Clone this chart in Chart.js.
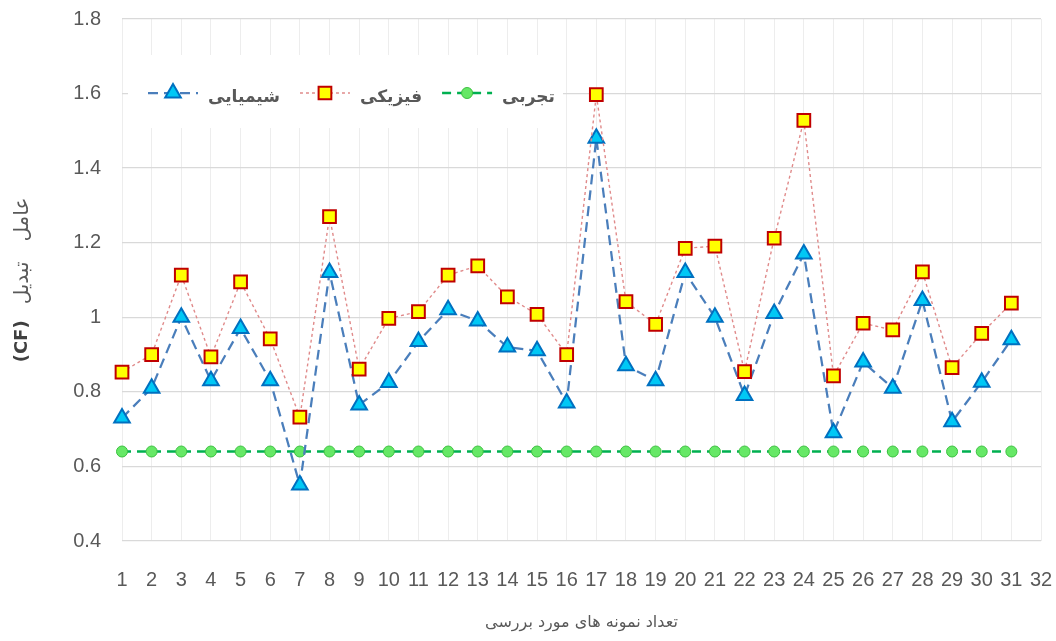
<!DOCTYPE html>
<html lang="fa">
<head>
    <meta charset="UTF-8">
    <title>عامل تبدیل (CF)</title>
    <script src="https://cdn.jsdelivr.net/npm/chart.js"></script>
    <style>
        html, body { margin: 0; padding: 0; background: #fff; }
        #wrap { position: relative; width: 1056px; height: 641px; }
    </style>
</head>
<body>
<div id="wrap"><canvas id="cfChart"></canvas></div>
<script>
    // Samples on the x axis (32 slots, 31 measured)
    const sampleLabels = ['1', '2', '3', '4', '5', '6', '7', '8', '9', '10', '11', '12', '13', '14', '15', '16',
        '17', '18', '19', '20', '21', '22', '23', '24', '25', '26', '27', '28', '29', '30', '31', '32'];

    // شیمیایی
    const chemicalValues = [0.73, 0.81, 1.00, 0.83, 0.97, 0.83, 0.55, 1.12, 0.765, 0.825, 0.935, 1.02, 0.99, 0.92, 0.91, 0.77,
        1.48, 0.87, 0.83, 1.12, 1.00, 0.79, 1.01, 1.17, 0.69, 0.88, 0.81, 1.045, 0.72, 0.826, 0.94];

    // فیزیکی
    const physicalValues = [0.853, 0.90, 1.113, 0.894, 1.095, 0.942, 0.732, 1.27, 0.861, 0.997, 1.015, 1.113, 1.138, 1.055, 1.008, 0.90,
        1.597, 1.042, 0.981, 1.185, 1.191, 0.854, 1.212, 1.528, 0.843, 0.984, 0.966, 1.122, 0.865, 0.957, 1.038];

    // تجربی
    const experimentalValues = [0.64, 0.64, 0.64, 0.64, 0.64, 0.64, 0.64, 0.64, 0.64, 0.64, 0.64, 0.64, 0.64, 0.64, 0.64, 0.64,
        0.64, 0.64, 0.64, 0.64, 0.64, 0.64, 0.64, 0.64, 0.64, 0.64, 0.64, 0.64, 0.64, 0.64, 0.64];

    const yMin = 0.4;
    const yMax = 1.8;
    const yStep = 0.2;

    const seriesNames = ['شیمیایی', 'فیزیکی', 'تجربی'];
    const xTitle = 'تعداد نمونه های مورد بررسی';
    const yTitleWords = ['(CF)', 'تبدیل', 'عامل'];   // bottom to top once rotated

    const textGray = '#595959';
    const tickFont = "'Liberation Sans', Arial, sans-serif";

    // Legend drawn as line + marker, sitting on a white box inside the plot
    const lineLegend = {
        id: 'lineLegend',
        beforeDatasetsDraw(chart) {
            const ctx = chart.ctx;
            const a = chart.chartArea;
            ctx.save();
            ctx.fillStyle = '#ffffff';
            ctx.fillRect(a.left + 6, 55, 435, 73);
            ctx.restore();
        },
        afterDraw(chart) {
            const ctx = chart.ctx;
            const a = chart.chartArea;
            let x = a.left + 26;
            const y = 93;
            chart.data.datasets.forEach(ds => {
                ctx.save();
                ctx.strokeStyle = ds.borderColor;
                ctx.lineWidth = ds.borderWidth;
                ctx.setLineDash(ds.borderDash || []);
                ctx.beginPath();
                ctx.moveTo(x, y);
                ctx.lineTo(x + 50, y);
                ctx.stroke();
                ctx.setLineDash([]);
                ctx.fillStyle = ds.pointBackgroundColor;
                ctx.strokeStyle = ds.pointBorderColor;
                ctx.lineWidth = ds.pointBorderWidth;
                Chart.helpers.drawPoint(ctx, {
                    pointStyle: ds.pointStyle,
                    radius: ds.pointRadius,
                    borderWidth: ds.pointBorderWidth
                }, x + 25, y);
                ctx.font = "bold 17px 'DejaVu Sans', sans-serif";
                ctx.fillStyle = textGray;
                ctx.direction = 'rtl';
                ctx.textAlign = 'left';
                ctx.textBaseline = 'alphabetic';
                const w = ctx.measureText(ds.label).width;
                ctx.fillText(ds.label, x + 60, y + 9);
                ctx.restore();
                x += 60 + w + 20;
            });

            // y axis title, rotated; words laid out bottom to top
            ctx.save();
            ctx.translate(22, (a.top + a.bottom) / 2);
            ctx.rotate(-Math.PI / 2);
            ctx.textBaseline = 'middle';
            ctx.textAlign = 'left';
            ctx.direction = 'rtl';
            const fonts = ["bold 18px 'DejaVu Sans', sans-serif", "20px 'DejaVu Sans', sans-serif", "20px 'DejaVu Sans', sans-serif"];
            const colors = ['#404040', textGray, textGray];
            const gaps = [16, 20];
            const widths = yTitleWords.map((t, i) => { ctx.font = fonts[i]; return ctx.measureText(t).width; });
            const total = widths.reduce((s, w) => s + w, 0) + gaps[0] + gaps[1];
            let pos = -total / 2;
            yTitleWords.forEach((t, i) => {
                ctx.font = fonts[i];
                ctx.fillStyle = colors[i];
                ctx.fillText(t, pos, i === 0 ? 0 : 1);
                pos += widths[i] + (gaps[i] || 0);
            });
            ctx.restore();
        }
    };

    const ctx = document.getElementById('cfChart').getContext('2d');
    new Chart(ctx, {
        type: 'line',
        data: {
            labels: sampleLabels,
            datasets: [{
                label: seriesNames[0],
                data: chemicalValues,
                order: 2,
                borderColor: '#4a7ebb',
                borderWidth: 2.25,
                borderDash: [10, 6],
                pointStyle: 'triangle',
                pointRadius: 9,
                pointBackgroundColor: '#00c8f5',
                pointBorderColor: '#0070c0',
                pointBorderWidth: 2,
                fill: false,
                tension: 0
            }, {
                label: seriesNames[1],
                data: physicalValues,
                order: 1,
                borderColor: '#e08a8a',
                borderWidth: 1.4,
                borderDash: [3, 3],
                pointStyle: 'rect',
                pointRadius: 9,
                pointBackgroundColor: '#ffff00',
                pointBorderColor: '#c00000',
                pointBorderWidth: 2,
                fill: false,
                tension: 0
            }, {
                label: seriesNames[2],
                data: experimentalValues,
                order: 3,
                borderColor: '#00b050',
                borderWidth: 2.5,
                borderDash: [9, 6],
                pointStyle: 'circle',
                pointRadius: 5.5,
                pointBackgroundColor: '#66e866',
                pointBorderColor: '#3cc040',
                pointBorderWidth: 1,
                fill: false,
                tension: 0
            }]
        },
        options: {
            responsive: true,
            maintainAspectRatio: false,
            animation: false,
            layout: { padding: { top: 19, right: 15, left: 0, bottom: 0 } },
            plugins: {
                legend: { display: false },
                tooltip: { enabled: false }
            },
            scales: {
                x: {
                    type: 'category',
                    offset: false,
                    border: { display: false },
                    grid: { color: '#ededed', drawTicks: false },
                    ticks: {
                        autoSkip: false,
                        maxRotation: 0,
                        padding: 27,
                        color: textGray,
                        font: { family: tickFont, size: 20 }
                    },
                    title: {
                        display: true,
                        text: xTitle,
                        color: textGray,
                        font: { family: "'DejaVu Sans', sans-serif", size: 16 },
                        padding: { top: 0, bottom: 9 }
                    },
                    afterFit(scale) {
                        scale.height = 100;
                        scale.paddingLeft = 0;
                        scale.paddingRight = 0;
                    }
                },
                y: {
                    min: yMin,
                    max: yMax,
                    border: { display: false },
                    grid: { color: '#d9d9d9', lineWidth: 1.3, drawTicks: false },
                    ticks: {
                        stepSize: yStep,
                        padding: 21,
                        color: textGray,
                        font: { family: tickFont, size: 20 },
                        callback: v => String(Number(v.toFixed(1)))
                    },
                    afterFit(scale) {
                        scale.width = 122;
                        scale.paddingTop = 0;
                        scale.paddingBottom = 0;
                    }
                }
            }
        },
        plugins: [lineLegend]
    });
</script>
</body>
</html>
